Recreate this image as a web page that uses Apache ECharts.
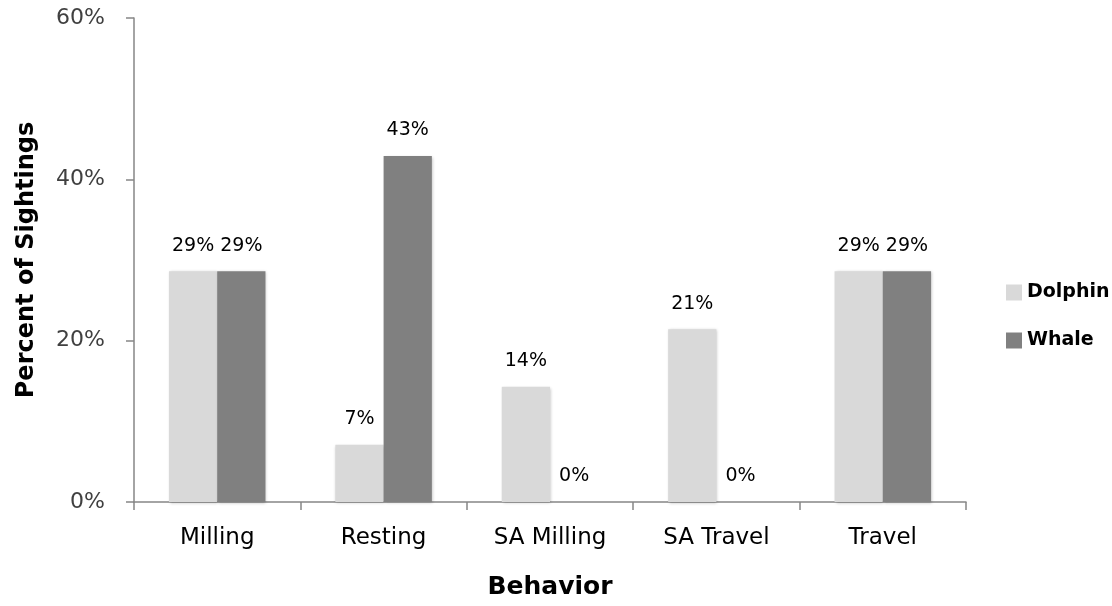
<!DOCTYPE html>
<html>
<head>
<meta charset="utf-8">
<script src="https://cdn.jsdelivr.net/npm/echarts@6/dist/echarts.min.js"></script>
<style>
  html, body { margin: 0; padding: 0; background: #fff; }
  #chart { width: 1112px; height: 606px; }
</style>
</head>
<body>
<div id="chart"></div>
<script>
const categories = ["Milling", "Resting", "SA Milling", "SA Travel", "Travel"];
const dolphin = [28.6, 7.1, 14.3, 21.4, 28.6];
const whale = [28.6, 42.9, 0, 0, 28.6];
const yTicks = [0, 20, 40, 60];

const fontFamily = "'DejaVu Sans', sans-serif";

let chartDom = document.getElementById("chart");
let myChart = echarts.init(chartDom);

const labelOption = {
  show: true,
  position: "top",
  distance: 16,
  fontSize: 19,
  color: "#000",
  fontFamily: fontFamily,
  formatter: function (p) {
    return Math.round(p.value) + "%";
  },
};

const barShadow = {
  shadowColor: "rgba(0,0,0,0.25)",
  shadowBlur: 3,
  shadowOffsetX: 1,
  shadowOffsetY: 1,
};

let option = {
  animation: false,
  textStyle: { fontFamily: fontFamily },
  legend: {
    orient: "vertical",
    left: 1001,
    top: 278,
    itemWidth: 16,
    itemHeight: 16,
    itemGap: 29,
    icon: "rect",
    textStyle: { fontSize: 19, color: "#000", fontWeight: "bold", fontFamily: fontFamily },
    data: ["Dolphin", "Whale"],
  },
  grid: {
    left: 134,
    right: 146,
    top: 18,
    bottom: 104,
  },
  xAxis: {
    type: "category",
    data: categories,
    name: "Behavior",
    nameLocation: "middle",
    nameGap: 73,
    nameTextStyle: { fontSize: 25, fontWeight: "bold", color: "#000", fontFamily: fontFamily },
    axisLine: { lineStyle: { color: "#868686", width: 1.5 } },
    axisTick: { show: true, length: 8, lineStyle: { color: "#868686", width: 1.5 } },
    axisLabel: { fontSize: 23, color: "#000", margin: 25, fontFamily: fontFamily },
  },
  yAxis: {
    type: "value",
    min: yTicks[0],
    max: yTicks[yTicks.length - 1],
    interval: 20,
    name: "Percent of Sightings",
    nameLocation: "middle",
    nameGap: 95,
    nameTextStyle: { fontSize: 24, fontWeight: "bold", color: "#000", fontFamily: fontFamily },
    axisLine: { show: true, lineStyle: { color: "#868686", width: 1.5 } },
    axisTick: { show: true, length: 8, lineStyle: { color: "#868686", width: 1.5 } },
    splitLine: { show: false },
    axisLabel: {
      fontSize: 22,
      color: "#404040",
      margin: 29,
      fontFamily: fontFamily,
      formatter: "{value}%",
    },
  },
  series: [
    {
      name: "Dolphin",
      type: "bar",
      data: dolphin,
      barGap: "0%",
      barCategoryGap: "42%",
      itemStyle: Object.assign({ color: "#d9d9d9" }, barShadow),
      label: labelOption,
    },
    {
      name: "Whale",
      type: "bar",
      data: whale,
      itemStyle: Object.assign({ color: "#808080" }, barShadow),
      label: labelOption,
    },
  ],
};

option && myChart.setOption(option);
</script>
</body>
</html>
